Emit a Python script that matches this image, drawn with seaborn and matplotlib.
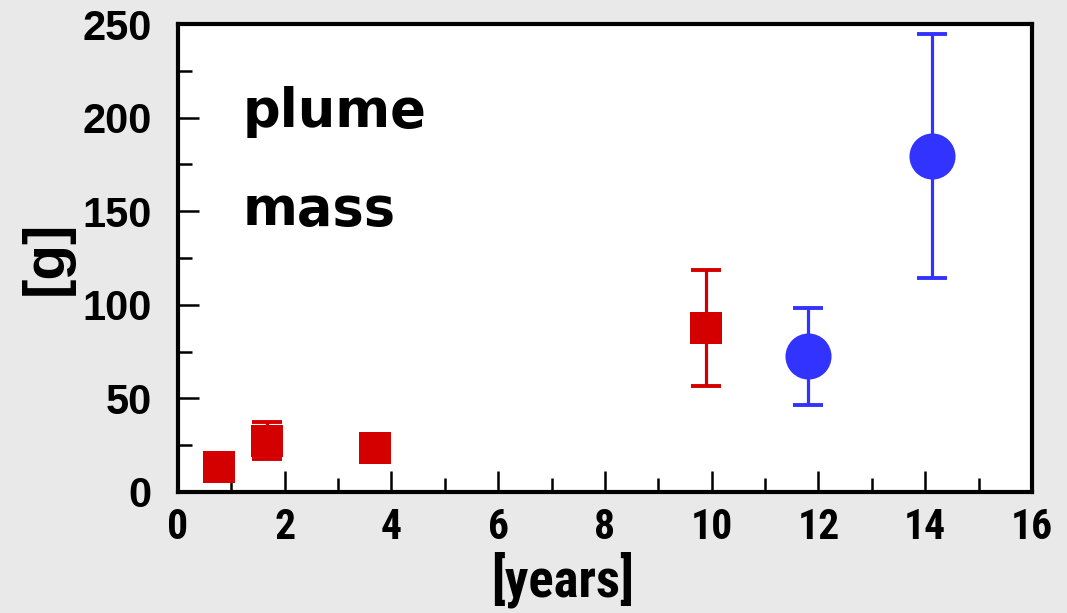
import numpy as np
import pandas as pd
import matplotlib.pyplot as plt
import seaborn as sns
from matplotlib import font_manager as fm
from matplotlib.ticker import MultipleLocator

# data
red_years = [0.77, 1.66, 3.70, 9.90]
red_mass = [13.5, 27.5, 23.5, 87.5]
red_err = [5.5, 10.0, 4.0, 31.0]

blue_years = [11.81, 14.13]
blue_mass = [72.5, 179.5]
blue_err = [26.0, 65.0]

x_ticks = [0, 2, 4, 6, 8, 10, 12, 14, 16]
y_ticks = [0, 50, 100, 150, 200, 250]

RED = '#d40000'
BLUE = '#3333ff'
BG = '#e9e9e9'

sns.set_theme(style='ticks')
plt.rcParams['font.family'] = ['Liberation Sans', 'DejaVu Sans']
plt.rcParams['text.color'] = 'black'
plt.rcParams['axes.labelcolor'] = 'black'
plt.rcParams['xtick.color'] = 'black'
plt.rcParams['ytick.color'] = 'black'

# look for a narrow bold face for the x axis texts
fonts = fm.fontManager.ttflist
narrow_family, narrow_stretch = 'Liberation Sans', 'normal'
for name in ['Liberation Sans Narrow', 'Roboto Condensed', 'Open Sans Condensed',
             'Noto Sans Condensed', 'DejaVu Sans Condensed']:
    if any(f.name == name for f in fonts):
        narrow_family = name
        break
else:
    for name in ['Noto Sans', 'Open Sans', 'Roboto', 'DejaVu Sans']:
        cond = [f for f in fonts if f.name == name and 'condensed' in str(f.stretch)]
        if cond:
            narrow_family, narrow_stretch = name, 'condensed'
            break

red = pd.DataFrame({'years': red_years, 'mass': red_mass, 'err': red_err})
blue = pd.DataFrame({'years': blue_years, 'mass': blue_mass, 'err': blue_err})

fig = plt.figure(figsize=(10.67, 6.13), dpi=100, facecolor=BG)
ax = fig.add_axes([0.1668, 0.1974, 0.8004, 0.7634])
ax.set_facecolor('white')

# error bars first, markers on top
ax.errorbar(red['years'], red['mass'], yerr=red['err'], fmt='none', ecolor=RED,
            elinewidth=2.3, capsize=10.5, capthick=2.8, zorder=2)
ax.errorbar(blue['years'], blue['mass'], yerr=blue['err'], fmt='none', ecolor=BLUE,
            elinewidth=2.3, capsize=10.5, capthick=2.8, zorder=2)
sns.scatterplot(data=red, x='years', y='mass', marker='s', s=560, color=RED,
                linewidth=0, ax=ax, zorder=3)
sns.scatterplot(data=blue, x='years', y='mass', marker='o', s=1100, color=BLUE,
                linewidth=0, ax=ax, zorder=3)

ax.set_xlim(0, 16)
ax.set_ylim(0, 250)
ax.set_xticks(x_ticks)
ax.set_yticks(y_ticks)
ax.xaxis.set_minor_locator(MultipleLocator(1))
ax.yaxis.set_minor_locator(MultipleLocator(25))

for sp in ax.spines.values():
    sp.set_linewidth(3)
    sp.set_color('black')

ax.tick_params(which='major', direction='in', length=15, width=1.8, color='black')
ax.tick_params(which='minor', direction='in', length=10, width=1.8, color='black')
ax.tick_params(axis='y', which='major', pad=19, labelsize=30)
ax.tick_params(axis='x', which='major', pad=11, labelsize=30)
for lab in ax.get_yticklabels():
    lab.set_fontweight('bold')
for lab in ax.get_xticklabels():
    lab.set_fontweight('bold')
    lab.set_family([narrow_family, 'DejaVu Sans'])
    lab.set_stretch(narrow_stretch)

ax.set_xlabel('[years]', fontsize=38, fontweight='bold',
              family=[narrow_family, 'DejaVu Sans'], fontstretch=narrow_stretch)
ax.xaxis.set_label_coords(0.45, -0.128)
ax.set_ylabel('[g]', fontsize=42, fontweight='bold')
ax.yaxis.set_label_coords(-0.122, 0.5)

ax.text(1.22, 195, 'plume', fontsize=38, fontweight='bold',
        family=['DejaVu Sans'], va='baseline', ha='left')
ax.text(1.22, 142.5, 'mass', fontsize=38, fontweight='bold',
        family=['DejaVu Sans'], va='baseline', ha='left')

fig.savefig('out.png', dpi=100, facecolor=BG)
